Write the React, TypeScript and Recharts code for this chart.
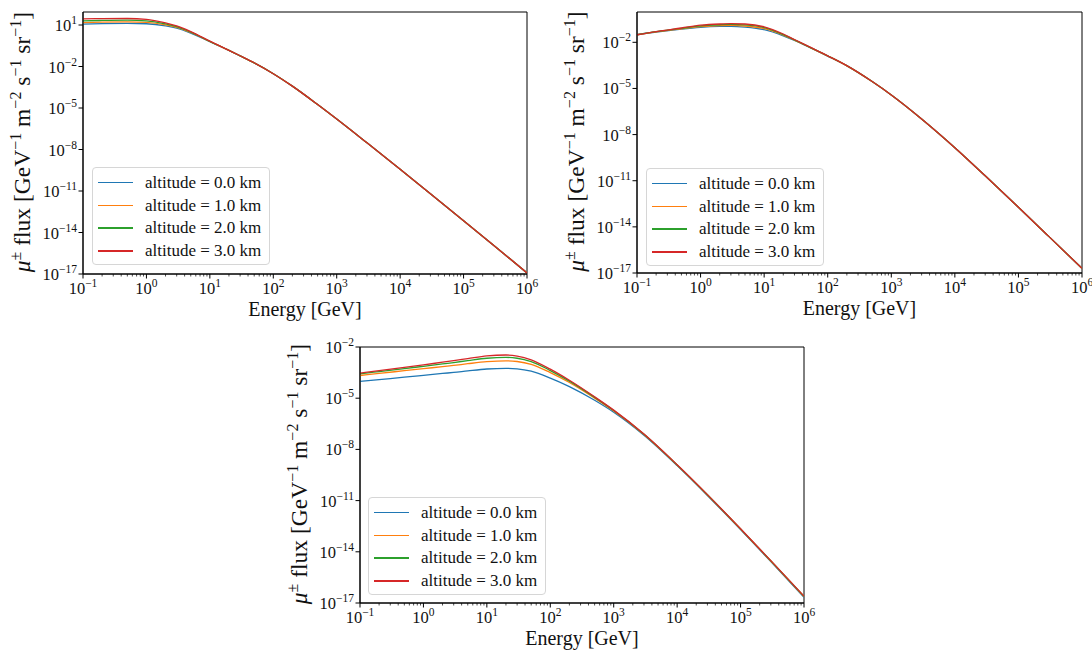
import React from 'react';
import { LineChart, Line, XAxis, YAxis, Legend, ReferenceArea } from 'recharts';

const FONT = "'Liberation Serif', 'Times New Roman', serif";
const TXT = '#111';

// Energies in GeV
const energies = [0.1, 0.2, 0.5, 1, 2, 3, 5, 10, 20, 30, 50, 100, 200, 500, 1e3, 3e3, 1e4, 3e4, 1e5, 3e5, 1e6];

const seriesLabels = ['altitude = 0.0 km', 'altitude = 1.0 km', 'altitude = 2.0 km', 'altitude = 3.0 km'];
const seriesColors = ['#1f77b4', '#ff7f0e', '#2ca02c', '#d62728'];

// log10 of flux, panel 1 (top-left)
const p1Alt0 = [1.06, 1.10, 1.12, 1.09, 0.94, 0.78, 0.42, -0.21, -0.84, -1.23, -1.74, -2.52, -3.42, -4.75, -5.80, -7.52, -9.43, -11.20, -13.15, -14.94, -16.92];
const p1Alt1 = [1.17, 1.21, 1.23, 1.19, 1.01, 0.83, 0.46, -0.19, -0.83, -1.23, -1.74, -2.52, -3.42, -4.75, -5.80, -7.52, -9.43, -11.20, -13.15, -14.94, -16.92];
const p1Alt2 = [1.30, 1.33, 1.35, 1.30, 1.08, 0.88, 0.49, -0.18, -0.83, -1.23, -1.74, -2.52, -3.42, -4.75, -5.80, -7.52, -9.43, -11.20, -13.15, -14.94, -16.92];
const p1Alt3 = [1.44, 1.46, 1.47, 1.41, 1.15, 0.93, 0.52, -0.17, -0.83, -1.22, -1.73, -2.52, -3.42, -4.75, -5.80, -7.52, -9.43, -11.20, -13.15, -14.94, -16.92];

// log10 of flux, panel 2 (top-right)
const p2Alt0 = [-1.51, -1.33, -1.14, -1.03, -0.97, -0.96, -1.01, -1.18, -1.58, -1.88, -2.30, -2.90, -3.53, -4.55, -5.42, -6.98, -8.85, -10.68, -12.73, -14.62, -16.70];
const p2Alt1 = [-1.51, -1.32, -1.12, -0.98, -0.91, -0.90, -0.94, -1.11, -1.53, -1.86, -2.29, -2.89, -3.53, -4.55, -5.42, -6.98, -8.85, -10.68, -12.73, -14.62, -16.70];
const p2Alt2 = [-1.51, -1.31, -1.09, -0.93, -0.86, -0.84, -0.87, -1.04, -1.50, -1.84, -2.28, -2.88, -3.52, -4.55, -5.42, -6.98, -8.85, -10.68, -12.73, -14.62, -16.70];
const p2Alt3 = [-1.51, -1.30, -1.07, -0.89, -0.81, -0.79, -0.81, -0.99, -1.46, -1.82, -2.27, -2.88, -3.52, -4.55, -5.42, -6.98, -8.85, -10.68, -12.73, -14.62, -16.70];

// log10 of flux, panel 3 (bottom)
const p3Alt0 = [-4.02, -3.91, -3.77, -3.66, -3.55, -3.49, -3.40, -3.29, -3.25, -3.28, -3.42, -3.82, -4.32, -5.12, -5.82, -7.17, -8.95, -10.70, -12.70, -14.57, -16.67];
const p3Alt1 = [-3.67, -3.55, -3.39, -3.27, -3.15, -3.08, -2.98, -2.86, -2.81, -2.85, -3.02, -3.50, -4.08, -5.00, -5.75, -7.12, -8.92, -10.67, -12.67, -14.54, -16.62];
const p3Alt2 = [-3.57, -3.44, -3.27, -3.13, -2.99, -2.91, -2.80, -2.66, -2.61, -2.66, -2.86, -3.38, -4.00, -4.95, -5.72, -7.11, -8.91, -10.66, -12.66, -14.53, -16.61];
const p3Alt3 = [-3.53, -3.39, -3.20, -3.05, -2.89, -2.80, -2.68, -2.52, -2.47, -2.53, -2.75, -3.30, -3.95, -4.92, -5.70, -7.10, -8.90, -10.65, -12.65, -14.52, -16.60];

const xMajorTicks = [0.1, 1, 10, 100, 1e3, 1e4, 1e5, 1e6];
const xMinorMultipliers = [2, 3, 4, 5, 6, 7, 8, 9];
const yTicksTop = [1e-17, 1e-14, 1e-11, 1e-8, 1e-5, 1e-2, 1e1];
const yTicksLow = [1e-17, 1e-14, 1e-11, 1e-8, 1e-5, 1e-2];

const xTicks: number[] = [...xMajorTicks];
for (let i = 0; i < xMajorTicks.length - 1; i++) {
  for (const m of xMinorMultipliers) xTicks.push(xMajorTicks[i] * m);
}

function buildData(series: number[][]) {
  return energies.map((e, i) => {
    const row: Record<string, number> = { E: e };
    series.forEach((s, k) => {
      row['a' + k] = Math.pow(10, s[i]);
    });
    return row;
  });
}

const fmtExp = (n: number) => (n < 0 ? '\u2212' + Math.abs(n) : String(n));

const TICK_FS = 16.5;
const SUP_FS = 11.5;

const XTick = (props: any) => {
  const { x, y, payload } = props;
  const v = payload.value as number;
  const lg = Math.log10(v);
  const exp = Math.round(lg);
  const major = Math.abs(lg - exp) < 1e-6;
  return (
    <g>
      <line x1={x} x2={x} y1={y} y2={y + (major ? 4.5 : 2.5)} stroke="#000" strokeWidth={major ? 1 : 0.7} />
      {major && (
        <text x={x} y={y + 20} textAnchor="middle" fontFamily={FONT} fontSize={TICK_FS} fill={TXT}>
          10
          <tspan dy={-7} fontSize={SUP_FS}>
            {fmtExp(exp)}
          </tspan>
        </text>
      )}
    </g>
  );
};

const YTick = (props: any) => {
  const { x, y, payload } = props;
  const exp = Math.round(Math.log10(payload.value));
  return (
    <g>
      <line x1={x - 4.5} x2={x} y1={y} y2={y} stroke="#000" strokeWidth={1} />
      <text x={x - 6} y={y + 6} textAnchor="end" fontFamily={FONT} fontSize={TICK_FS} fill={TXT}>
        10
        <tspan dy={-7} fontSize={SUP_FS}>
          {fmtExp(exp)}
        </tspan>
      </text>
    </g>
  );
};

const XLABEL_FS = 20;
const YLABEL_FS = 23.5;
const YSUP_FS = 16;

const XLabel = ({ cx, cy }: { cx: number; cy: number }) => (
  <text x={cx} y={cy} textAnchor="middle" fontFamily={FONT} fontSize={XLABEL_FS} fill={TXT}>
    Energy [GeV]
  </text>
);

const yLabelParts: [string, boolean, boolean][] = [
  ['\u03bc', false, true],
  ['\u00b1', true, false],
  [' flux [GeV', false, false],
  ['\u22121', true, false],
  [' m', false, false],
  ['\u22122', true, false],
  [' s', false, false],
  ['\u22121', true, false],
  [' sr', false, false],
  ['\u22121', true, false],
  [']', false, false],
];

const YLabel = ({ cx, cy }: { cx: number; cy: number }) => {
  let prevSup = false;
  return (
    <text
      x={cx}
      y={cy}
      textAnchor="middle"
      transform={`rotate(-90, ${cx}, ${cy})`}
      fontFamily={FONT}
      fontSize={YLABEL_FS}
      fill={TXT}
      style={{ whiteSpace: 'pre' }}
    >
      {yLabelParts.map(([t, sup, ital], i) => {
        let dy = 0;
        if (sup && !prevSup) dy = -9;
        if (!sup && prevSup) dy = 9;
        prevSup = sup;
        return (
          <tspan key={i} dy={dy} fontSize={sup ? YSUP_FS : YLABEL_FS} fontStyle={ital ? 'italic' : 'normal'}>
            {t}
          </tspan>
        );
      })}
    </text>
  );
};

const LegendBox = () => (
  <div
    style={{
      position: 'relative',
      width: 178,
      height: 98,
      boxSizing: 'border-box',
      border: '1px solid #d6d6d6',
      borderRadius: 4,
      background: 'rgba(255,255,255,0.8)',
    }}
  >
    {seriesLabels.map((l, i) => (
      <div key={i} style={{ position: 'absolute', left: 0, top: 3.7 + i * 22.8, height: 22, width: '100%' }}>
        <div
          style={{
            position: 'absolute',
            left: 5,
            top: 10,
            width: 35,
            height: 1.6,
            background: seriesColors[i],
          }}
        />
        <span
          style={{
            position: 'absolute',
            left: 52,
            top: 0,
            lineHeight: '22px',
            fontSize: 17,
            fontFamily: FONT,
            color: TXT,
            whiteSpace: 'nowrap',
          }}
        >
          {l}
        </span>
      </div>
    ))}
  </div>
);

type PanelProps = {
  left: number;
  top: number;
  width: number;
  height: number;
  plotW: number;
  plotH: number;
  yDomain: [number, number];
  yTicks: number[];
  series: number[][];
  legendLeft: number;
  legendTop: number;
};

const Y_AXIS_W = 83;
const X_AXIS_H = 40;
const M_TOP = 12;

const Panel = (p: PanelProps) => {
  const data = buildData(p.series);
  const margin = {
    top: M_TOP,
    left: 0,
    right: p.width - Y_AXIS_W - p.plotW,
    bottom: p.height - M_TOP - p.plotH - X_AXIS_H,
  };
  const plotBottom = M_TOP + p.plotH;
  return (
    <div style={{ position: 'absolute', left: p.left, top: p.top }}>
      <LineChart width={p.width} height={p.height} data={data} margin={margin}>
        <XAxis
          dataKey="E"
          type="number"
          scale="log"
          domain={[0.1, 1e6]}
          allowDataOverflow
          ticks={xTicks}
          interval={0}
          tick={<XTick />}
          tickLine={false}
          tickSize={0}
          tickMargin={0}
          height={X_AXIS_H}
          axisLine={{ stroke: '#000', strokeWidth: 1 }}
          label={<XLabel cx={Y_AXIS_W + p.plotW / 2} cy={plotBottom + 42} />}
        />
        <YAxis
          type="number"
          scale="log"
          domain={p.yDomain}
          allowDataOverflow
          ticks={p.yTicks}
          interval={0}
          tick={<YTick />}
          tickLine={false}
          tickSize={0}
          tickMargin={0}
          width={Y_AXIS_W}
          axisLine={{ stroke: '#000', strokeWidth: 1 }}
          label={<YLabel cx={Y_AXIS_W - 53} cy={M_TOP + p.plotH / 2 - 1} />}
        />
        {p.series.map((_, k) => (
          <Line
            key={k}
            dataKey={'a' + k}
            name={seriesLabels[k]}
            stroke={seriesColors[k]}
            strokeWidth={1.3}
            dot={false}
            activeDot={false}
            type="monotone"
            isAnimationActive={false}
          />
        ))}
        <ReferenceArea
          x1={0.1}
          x2={1e6}
          y1={p.yDomain[0]}
          y2={p.yDomain[1]}
          fill="none"
          fillOpacity={0}
          stroke="#000"
          strokeWidth={1}
          ifOverflow="visible"
        />
        <Legend
          layout="vertical"
          align="center"
          verticalAlign="middle"
          content={<LegendBox />}
          wrapperStyle={{ position: 'absolute', left: p.legendLeft, top: p.legendTop, width: 178, height: 98 }}
        />
      </LineChart>
    </div>
  );
};

export default function App() {
  return (
    <div style={{ position: 'absolute', left: 0, top: 0, width: 1092, height: 650, background: '#fff', overflow: 'hidden' }}>
      <Panel
        left={0}
        top={0}
        width={546}
        height={325}
        plotW={444}
        plotH={262}
        yDomain={[1e-17, Math.pow(10, 1.94)]}
        yTicks={yTicksTop}
        series={[p1Alt0, p1Alt1, p1Alt2, p1Alt3]}
        legendLeft={92}
        legendTop={167}
      />
      <Panel
        left={554}
        top={0}
        width={538}
        height={325}
        plotW={445}
        plotH={261}
        yDomain={[1e-17, Math.pow(10, -0.03)]}
        yTicks={yTicksLow}
        series={[p2Alt0, p2Alt1, p2Alt2, p2Alt3]}
        legendLeft={92}
        legendTop={168}
      />
      <Panel
        left={277}
        top={335}
        width={540}
        height={315}
        plotW={444}
        plotH={256}
        yDomain={[1e-17, 1e-2]}
        yTicks={yTicksLow}
        series={[p3Alt0, p3Alt1, p3Alt2, p3Alt3]}
        legendLeft={91}
        legendTop={162}
      />
    </div>
  );
}
